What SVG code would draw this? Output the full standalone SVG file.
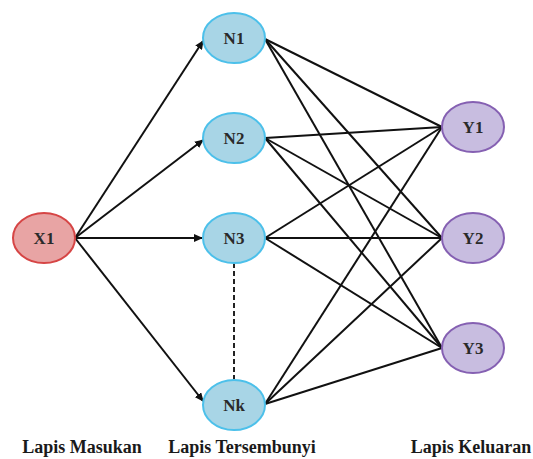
<svg xmlns="http://www.w3.org/2000/svg" width="533" height="459" viewBox="0 0 533 459">
<defs>
<style>
.e{stroke:#111;stroke-width:2;fill:none}
.a{marker-end:url(#ah)}
.d{stroke:#222;stroke-width:2;stroke-dasharray:5 3;fill:none}
.x{fill:#e8a4a4;stroke:#d64545;stroke-width:2}
.n{fill:#a8d5e6;stroke:#4cc0ea;stroke-width:2}
.y{fill:#c8bde0;stroke:#8560b2;stroke-width:2}
.t{font-family:'Liberation Serif','Times New Roman',serif;font-weight:bold;font-size:17px;fill:#2a2a2a;text-anchor:middle}
.l{font-family:'Liberation Serif','Times New Roman',serif;font-weight:bold;font-size:18px;fill:#1a1a1a;text-anchor:middle}
</style>
<marker id="ah" markerWidth="9" markerHeight="8" refX="8" refY="4" orient="auto" markerUnits="userSpaceOnUse">
<path d="M0,0 L9,4 L0,8 Z" fill="#111"/>
</marker>
</defs>
<rect width="533" height="459" fill="#fff"/>
<g id="connectors">
<line class="e a" x1="75" y1="238" x2="203" y2="41"/>
<line class="e a" x1="75" y1="238" x2="203" y2="140"/>
<line class="e a" x1="75" y1="238" x2="202" y2="238"/>
<line class="e a" x1="75" y1="238" x2="203" y2="401"/>
<line class="e" x1="265" y1="39" x2="442" y2="127"/>
<line class="e" x1="265" y1="39" x2="442" y2="238"/>
<line class="e" x1="265" y1="39" x2="442" y2="348"/>
<line class="e" x1="265" y1="138" x2="442" y2="127"/>
<line class="e" x1="265" y1="138" x2="442" y2="238"/>
<line class="e" x1="265" y1="138" x2="442" y2="348"/>
<line class="e" x1="265" y1="238" x2="442" y2="127"/>
<line class="e" x1="265" y1="238" x2="442" y2="238"/>
<line class="e" x1="265" y1="238" x2="442" y2="348"/>
<line class="e" x1="265" y1="404" x2="442" y2="127"/>
<line class="e" x1="265" y1="404" x2="442" y2="238"/>
<line class="e" x1="265" y1="404" x2="442" y2="348"/>
<line class="d" x1="234" y1="263" x2="234" y2="379"/>
</g>
<g id="X1"><ellipse class="x" cx="44" cy="238" rx="31" ry="25"/><text class="t" x="44" y="244">X1</text></g>
<g id="N1"><ellipse class="n" cx="234" cy="38" rx="31" ry="25"/><text class="t" x="234" y="44">N1</text></g>
<g id="N2"><ellipse class="n" cx="234" cy="138" rx="31" ry="25"/><text class="t" x="234" y="144">N2</text></g>
<g id="N3"><ellipse class="n" cx="234" cy="238" rx="31" ry="25"/><text class="t" x="234" y="244">N3</text></g>
<g id="Nk"><ellipse class="n" cx="234" cy="405" rx="31" ry="25"/><text class="t" x="234" y="411">Nk</text></g>
<g id="Y1"><ellipse class="y" cx="473" cy="127" rx="31" ry="25"/><text class="t" x="473" y="133">Y1</text></g>
<g id="Y2"><ellipse class="y" cx="473" cy="238" rx="31" ry="25"/><text class="t" x="473" y="244">Y2</text></g>
<g id="Y3"><ellipse class="y" cx="473" cy="348" rx="31" ry="25"/><text class="t" x="473" y="354">Y3</text></g>
<g id="labels">
<text class="l" x="82" y="453">Lapis Masukan</text>
<text class="l" x="242" y="453">Lapis Tersembunyi</text>
<text class="l" x="471" y="453">Lapis Keluaran</text>
</g>
</svg>
